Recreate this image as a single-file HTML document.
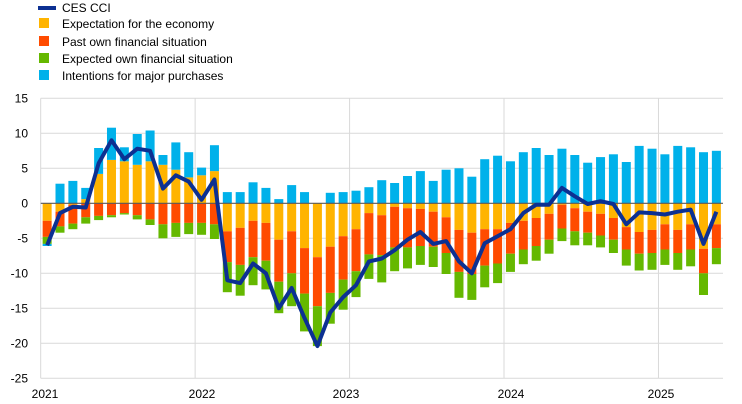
<!DOCTYPE html>
<html><head><meta charset="utf-8"><style>
body{margin:0;background:#fff;}
svg{display:block;font-family:"Liberation Sans",Arial,sans-serif;}
</style></head><body>
<svg id="chart" width="742" height="404" xmlns="http://www.w3.org/2000/svg">
<g id="legend" font-size="12" fill="#000">
<g><line x1="38" y1="8" x2="56" y2="8" stroke="#0c3092" stroke-width="4"/><text x="62" y="12">CES CCI</text></g>
<g><rect x="39" y="18" width="10" height="10" fill="#ffb400"/><text x="62" y="28">Expectation for the economy</text></g>
<g><rect x="39" y="36" width="10" height="10" fill="#ff4b00"/><text x="62" y="46">Past own financial situation</text></g>
<g><rect x="39" y="53" width="10" height="10" fill="#65b800"/><text x="62" y="63">Expected own financial situation</text></g>
<g><rect x="39" y="70" width="10" height="10" fill="#00b1ea"/><text x="62" y="80">Intentions for major purchases</text></g>
</g>
<g id="grid"></g><g id="bars"></g><g id="axes"></g><g id="line"></g>
</svg>
<script>
const yTicks=[15,10,5,0,-5,-10,-15,-20,-25];
const yearLabels=["2021","2022","2023","2024","2025"];
const yearLabelX=[45,202,346,511,661];
const economy=[-2.5,-1.2,-0.2,0.6,4.2,6.2,6.0,5.5,6.0,5.5,4.8,3.7,4.0,4.6,-4.0,-3.5,-2.5,-2.8,-5.2,-4.0,-6.4,-7.7,-6.2,-4.7,-3.7,-1.4,-1.7,-0.5,-0.7,-0.8,-1.2,-2.0,-3.8,-4.2,-3.7,-3.7,-2.8,-2.5,-2.1,-1.5,-0.2,-0.7,-1.2,-1.5,-2.1,-3.4,-4.1,-3.8,-3.0,-3.8,-3.0,-6.5,-3.0];
const pastFin=[-2.3,-2.1,-2.7,-2.0,-1.8,-1.7,-1.4,-1.7,-2.3,-3.0,-2.8,-2.8,-2.8,-3.0,-4.4,-5.3,-5.2,-5.4,-6.0,-6.0,-6.5,-7.0,-6.6,-6.2,-6.0,-5.9,-5.7,-5.8,-5.6,-5.3,-5.0,-5.1,-6.0,-5.9,-5.2,-4.9,-4.4,-4.1,-4.0,-3.7,-3.4,-3.3,-3.0,-3.1,-3.1,-3.2,-3.1,-3.3,-3.6,-3.3,-3.6,-3.5,-3.4];
const expFin=[-1.0,-0.9,-0.8,-0.9,-0.6,-0.3,-0.2,-0.6,-0.8,-2.0,-2.0,-1.6,-1.7,-2.1,-4.3,-4.4,-4.0,-4.1,-4.5,-4.7,-5.4,-5.7,-4.4,-4.3,-3.7,-3.5,-3.9,-3.4,-3.0,-2.7,-2.9,-3.0,-3.7,-3.7,-3.1,-2.8,-2.6,-2.1,-2.1,-2.0,-1.8,-2.0,-1.8,-1.7,-1.9,-2.3,-2.4,-2.4,-2.2,-2.4,-2.4,-3.1,-2.3];
const purchases=[-0.3,2.8,3.2,1.6,3.7,4.6,2.0,4.4,4.4,1.4,3.9,3.6,1.1,3.7,1.6,1.6,3.0,2.2,0.6,2.6,1.6,0.0,1.5,1.6,1.8,2.3,3.3,2.9,3.9,4.6,3.2,4.8,5.0,3.8,6.3,6.8,6.0,7.3,7.9,6.9,7.8,6.9,5.8,6.6,7.0,5.9,8.2,7.8,7.0,8.2,8.0,7.3,7.5];
const cci=[-6.0,-1.4,-0.5,-0.6,5.7,9.0,6.3,7.8,7.5,2.1,4.0,3.1,0.5,3.4,-11.0,-11.4,-8.6,-10.0,-15.0,-12.1,-16.4,-20.4,-15.6,-13.4,-11.7,-8.3,-7.9,-6.7,-5.2,-4.1,-5.8,-5.4,-8.3,-10.0,-5.7,-4.7,-3.7,-1.4,-0.2,-0.2,2.2,1.0,-0.1,0.3,-0.1,-3.0,-1.3,-1.4,-1.6,-1.2,-0.9,-5.8,-1.2];
const series=[economy,pastFin,expFin,purchases];
const seriesNames=["economy","past-financial","expected-financial","purchases"];
const colors=["#ffb400","#ff4b00","#65b800","#00b1ea"];
const NS="http://www.w3.org/2000/svg";
const X0=40.7,STEP=12.87,Y0=203.3,PX=7.0;
const y=v=>Y0-v*PX;
const x=i=>X0+(i+0.5)*STEP;
const grid=document.getElementById('grid');
yTicks.forEach(t=>{
  const l=document.createElementNS(NS,'line');
  
  
  l.setAttribute('x1',X0);l.setAttribute('x2',723);l.setAttribute('y1',y(t));l.setAttribute('y2',y(t));
  l.setAttribute('stroke',t===0?'#595959':'#d9d9d9');l.setAttribute('stroke-width',t===0?1.2:1);
  (t===0?document.getElementById('axes'):grid).appendChild(l);
  const tx=document.createElementNS(NS,'text');
  
  
  tx.setAttribute('x',28);tx.setAttribute('y',y(t)+4);tx.setAttribute('text-anchor','end');tx.setAttribute('font-size','12');
  tx.textContent=t;grid.appendChild(tx);
});
yearLabels.forEach((lab,k)=>{
  const gx=X0+k*12*STEP;
  const l=document.createElementNS(NS,'line');
  
  
  l.setAttribute('x1',gx);l.setAttribute('x2',gx);l.setAttribute('y1',y(15));l.setAttribute('y2',y(-25));
  l.setAttribute('stroke','#d9d9d9');grid.appendChild(l);
  const tx=document.createElementNS(NS,'text');
  
  
  tx.setAttribute('x',yearLabelX[k]);tx.setAttribute('y',398);tx.setAttribute('text-anchor','middle');tx.setAttribute('font-size','12');
  tx.textContent=lab;grid.appendChild(tx);
});
const bars=document.getElementById('bars');
for(let i=0;i<cci.length;i++){
  let pos=0,neg=0;
  series.forEach((s,k)=>{
    const v=s[i];if(v===0)return;
    let top,bot;
    if(v>0){top=pos+v;bot=pos;pos=top;}else{top=neg;bot=neg+v;neg=bot;}
    const r=document.createElementNS(NS,'rect');
    
    
    r.setAttribute('x',x(i)-4.5);r.setAttribute('width',9);
    r.setAttribute('y',y(top));r.setAttribute('height',y(bot)-y(top));
    r.setAttribute('fill',colors[k]);bars.appendChild(r);
  });
}
const p=document.createElementNS(NS,'polyline');


p.setAttribute('points',cci.map((v,i)=>x(i)+','+y(v)).join(' '));
p.setAttribute('fill','none');p.setAttribute('stroke','#0c3092');p.setAttribute('stroke-width',4);p.setAttribute('stroke-linejoin','round');
document.getElementById('line').appendChild(p);
</script>
</body></html>
